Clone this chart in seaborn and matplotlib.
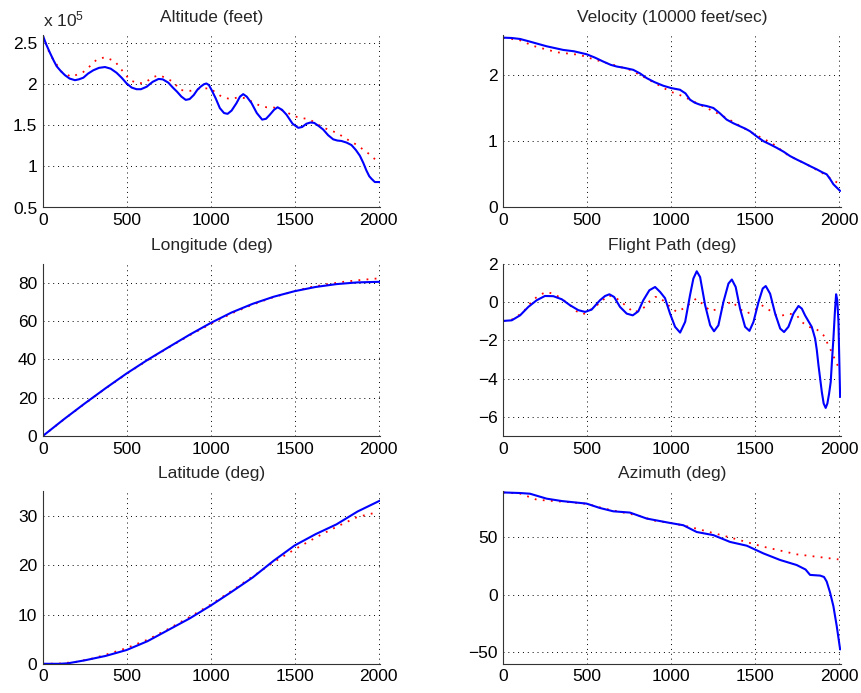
import numpy as np
import matplotlib
matplotlib.use("Agg")
import matplotlib.pyplot as plt
import seaborn as sns
from matplotlib.ticker import FuncFormatter

# --- data (x = time, blue = solid, red = dotted) ---
alt_blue_t = [0, 20, 44, 65, 83, 108, 133, 160, 192, 215, 242, 270, 301, 335, 371, 405,
              440, 470, 500, 530, 559, 585, 619, 655, 690, 715, 748, 775, 800, 826, 852,
              875, 900, 920, 940, 960, 975, 990, 1006, 1030, 1055, 1080, 1101, 1125, 1154,
              1175, 1194, 1215, 1244, 1275, 1307, 1330, 1353, 1378, 1399, 1425, 1452, 1488,
              1522, 1545, 1571, 1595, 1617, 1645, 1670, 1700, 1730, 1755, 1779, 1810, 1839,
              1865, 1889, 1910, 1928, 1945, 1958, 1978, 2008]
alt_blue = [2.60, 2.49, 2.38, 2.29, 2.22, 2.16, 2.11, 2.07, 2.05, 2.06, 2.08, 2.13, 2.17,
            2.20, 2.21, 2.19, 2.14, 2.08, 2.01, 1.96, 1.94, 1.94, 1.97, 2.03, 2.065, 2.06,
            2.02, 1.96, 1.91, 1.85, 1.81, 1.82, 1.87, 1.93, 1.97, 2.00, 2.01, 1.99, 1.93,
            1.83, 1.71, 1.65, 1.64, 1.68, 1.77, 1.85, 1.88, 1.85, 1.77, 1.65, 1.57, 1.58,
            1.63, 1.69, 1.72, 1.69, 1.63, 1.52, 1.47, 1.48, 1.52, 1.535, 1.53, 1.49, 1.45,
            1.38, 1.33, 1.315, 1.31, 1.29, 1.26, 1.20, 1.13, 1.04, 0.95, 0.88, 0.85, 0.81,
            0.81]
alt_red_t = [0, 44, 113, 172, 242, 292, 321, 371, 430, 480, 520, 569, 609, 659, 698, 738,
             778, 818, 878, 940, 996, 1065, 1115, 1164, 1214, 1244, 1283, 1333, 1373, 1418,
             1462, 1498, 1545, 1591, 1664, 1710, 1752, 1789, 1829, 1873, 1918, 1952, 1988,
             2005]
alt_red = [2.60, 2.36, 2.15, 2.09, 2.15, 2.24, 2.30, 2.33, 2.28, 2.15, 2.05, 2.01, 2.02,
           2.09, 2.11, 2.07, 2.03, 1.93, 1.92, 1.95, 1.95, 1.85, 1.82, 1.84, 1.83, 1.79,
           1.75, 1.72, 1.72, 1.69, 1.65, 1.61, 1.59, 1.57, 1.48, 1.44, 1.41, 1.36, 1.31,
           1.26, 1.19, 1.14, 1.07, 1.04]

vel_blue_t = [0, 50, 100, 159, 258, 357, 420, 496, 545, 595, 640, 675, 720, 774, 815, 854,
              900, 953, 1000, 1052, 1085, 1112, 1140, 1171, 1210, 1251, 1290, 1330, 1370,
              1409, 1440, 1469, 1510, 1549, 1590, 1628, 1670, 1708, 1750, 1787, 1830, 1867,
              1900, 1926, 1946, 1966, 1986, 2006]
vel_blue = [2.56, 2.555, 2.54, 2.50, 2.43, 2.375, 2.355, 2.31, 2.26, 2.20, 2.15, 2.125,
            2.105, 2.075, 2.02, 1.95, 1.89, 1.835, 1.80, 1.775, 1.72, 1.625, 1.58, 1.55,
            1.53, 1.50, 1.42, 1.325, 1.27, 1.225, 1.19, 1.15, 1.07, 1.00, 0.95, 0.90, 0.84,
            0.775, 0.72, 0.675, 0.62, 0.575, 0.53, 0.50, 0.43, 0.35, 0.30, 0.25]
vel_red_t = [0, 100, 179, 318, 456, 536, 655, 754, 850, 992, 1072, 1171, 1251, 1330, 1409,
             1500, 1600, 1700, 1800, 1900, 1960, 2005]
vel_red = [2.56, 2.52, 2.435, 2.34, 2.30, 2.235, 2.15, 2.075, 1.95, 1.75, 1.675, 1.55,
           1.45, 1.35, 1.23, 1.10, 0.97, 0.78, 0.66, 0.52, 0.42, 0.35]

lon_blue_t = [0, 125, 250, 375, 500, 625, 750, 875, 1000, 1125, 1250, 1375, 1500, 1625,
              1750, 1875, 2008]
lon_blue = [0, 8.7, 17.0, 25.0, 32.7, 39.8, 46.4, 52.9, 59.0, 64.5, 69.0, 72.7, 75.6,
            77.8, 79.3, 80.2, 80.5]
lon_red_t = [0, 125, 250, 375, 500, 625, 750, 875, 1000, 1125, 1250, 1375, 1500, 1600,
             1700, 1800, 1900, 2000]
lon_red = [0, 8.6, 16.9, 24.9, 32.5, 39.6, 46.2, 52.6, 58.5, 64.0, 68.6, 72.5, 75.6, 77.8,
           79.3, 80.6, 81.5, 82.3]

lat_blue_t = [0, 100, 150, 250, 375, 500, 625, 750, 875, 1000, 1125, 1250, 1375, 1500,
              1625, 1750, 1875, 2008]
lat_blue = [0, 0, 0.1, 0.7, 1.6, 2.8, 4.6, 6.9, 9.2, 11.8, 14.6, 17.5, 20.9, 24.0, 26.3,
            28.3, 30.9, 33.1]
lat_red_t = [0, 100, 200, 300, 400, 500, 625, 750, 875, 1000, 1125, 1250, 1375, 1500,
             1625, 1750, 1875, 2000]
lat_red = [0, 0.05, 0.4, 1.1, 2.1, 3.2, 4.9, 7.1, 9.5, 12.0, 14.8, 17.7, 20.6, 23.2, 25.6,
           27.8, 29.8, 30.8]

fp_blue_t = [0, 50, 100, 149, 199, 248, 298, 348, 397, 447, 487, 526, 576, 606, 632, 660,
             695, 735, 771, 804, 834, 870, 904, 934, 963, 993, 1023, 1053, 1083, 1112, 1132,
             1152, 1172, 1202, 1232, 1255, 1281, 1311, 1341, 1361, 1384, 1410, 1440, 1466,
             1490, 1520, 1545, 1563, 1589, 1619, 1649, 1672, 1698, 1728, 1758, 1778, 1797,
             1817, 1837, 1847, 1857, 1867, 1877, 1887, 1897, 1908, 1920, 1930, 1940, 1950,
             1958, 1966, 1975, 1982, 1989, 1996, 2006]
fp_blue = [-0.99, -0.96, -0.70, -0.26, 0.09, 0.31, 0.30, 0.14, -0.17, -0.43, -0.52, -0.40,
           0.09, 0.31, 0.40, 0.26, -0.26, -0.61, -0.70, -0.49, 0.09, 0.61, 0.78, 0.52, 0.20,
           -0.61, -1.30, -1.60, -1.04, 0.35, 1.22, 1.60, 1.30, -0.17, -1.22, -1.53, -1.22,
           0.0, 0.96, 1.17, 0.78, -0.35, -1.30, -1.51, -1.04, 0.0, 0.70, 0.83, 0.43, -0.61,
           -1.39, -1.57, -1.30, -0.61, -0.21, -0.35, -0.70, -1.0, -1.30, -1.6, -1.91, -2.5,
           -3.3, -4.0, -4.7, -5.3, -5.53, -5.3, -4.8, -4.17, -3.0, -1.91, -0.5, 0.40, 0.1,
           -1.04, -4.96]
fp_red_t = [0, 60, 119, 179, 219, 258, 308, 387, 437, 477, 546, 626, 671, 715, 745, 779,
            844, 870, 904, 924, 963, 993, 1033, 1082, 1148, 1202, 1231, 1291, 1360, 1410,
            1450, 1490, 1539, 1585, 1638, 1698, 1748, 1777, 1817, 1861, 1907, 1946, 1986,
            2006]
fp_red = [-1.0, -0.9, -0.52, 0.12, 0.38, 0.52, 0.40, -0.09, -0.49, -0.64, -0.26, 0.35,
          0.21, -0.09, -0.31, -0.56, -0.26, 0.03, 0.26, 0.26, 0.0, -0.26, -0.52, -0.30,
          0.17, -0.21, -0.47, -0.35, 0.03, -0.38, -0.60, -0.47, -0.17, -0.43, -0.78, -0.60,
          -0.70, -1.04, -1.30, -1.39, -1.74, -2.43, -3.22, -3.57]

az_blue_t = [0, 100, 159, 258, 350, 496, 575, 655, 754, 854, 992, 1072, 1152, 1251, 1350,
             1450, 1549, 1648, 1747, 1800, 1827, 1887, 1910, 1926, 1946, 1966, 1986, 2006]
az_blue = [89, 88.5, 87.9, 83.6, 81.5, 79.3, 75.5, 72.6, 71.5, 66.3, 62.5, 60.5, 54.6,
           51.9, 46, 42.7, 36, 30.3, 25.9, 22, 17.3, 16.7, 15.5, 11.5, 2, -10, -27.4, -47.5]
az_red_t = [0, 100, 199, 300, 400, 500, 600, 700, 800, 900, 1000, 1112, 1350, 1549, 1747,
            1900, 1996]
az_red = [89, 88, 82.7, 81.5, 80.5, 79, 75, 72, 69, 64.5, 62.5, 59, 49.9, 41.8, 35.2, 32.5,
          30.8]

x_ticks = [0, 500, 1000, 1500, 2000]

panels = [
    ("Altitude (feet)", alt_blue_t, alt_blue, alt_red_t, alt_red, (0.5, 2.6), [0.5, 1, 1.5, 2, 2.5]),
    ("Velocity (10000 feet/sec)", vel_blue_t, vel_blue, vel_red_t, vel_red, (0, 2.6), [0, 1, 2]),
    ("Longitude (deg)", lon_blue_t, lon_blue, lon_red_t, lon_red, (0, 90), [0, 20, 40, 60, 80]),
    ("Flight Path (deg)", fp_blue_t, fp_blue, fp_red_t, fp_red, (-7, 2), [-6, -4, -2, 0, 2]),
    ("Latitude (deg)", lat_blue_t, lat_blue, lat_red_t, lat_red, (0, 35), [0, 10, 20, 30]),
    ("Azimuth (deg)", az_blue_t, az_blue, az_red_t, az_red, (-60, 90), [-50, 0, 50]),
]

sns.set_theme(style="white")
plt.rcParams["font.family"] = ["Liberation Sans", "DejaVu Sans"]
plt.rcParams["mathtext.default"] = "regular"

FS = 12.5
fig = plt.figure(figsize=(8.62, 6.93), dpi=100)
W, H = 862, 693
lefts = [42.7, 503.3]
tops = [35, 263.6, 491.3]
ax_w = 337.5
ax_h = 172.5

for i, (title, bt, by, rt, ry, ylim, yticks) in enumerate(panels):
    row, col = divmod(i, 2)
    ax = fig.add_axes([lefts[col] / W, 1 - (tops[row] + ax_h) / H, ax_w / W, ax_h / H])
    sns.lineplot(x=rt, y=ry, ax=ax, color="red", linewidth=1.3,
                 linestyle=(0, (1, 3.5)), sort=False)
    sns.lineplot(x=bt, y=by, ax=ax, color="blue", linewidth=1.5, sort=False)
    ax.set_xlim(0, 2010)
    ax.set_ylim(*ylim)
    ax.set_xticks(x_ticks)
    ax.set_yticks(yticks)
    ax.yaxis.set_major_formatter(FuncFormatter(lambda v, p: f"{v:g}".replace("-", "\u2212")))
    ax.set_xlabel("")
    ax.set_ylabel("")
    ax.set_title(title, fontsize=FS, pad=9.5)
    ax.grid(True, linestyle=(0, (1, 4)), color="black", linewidth=0.7)
    sns.despine(ax=ax)
    for side in ["left", "bottom"]:
        ax.spines[side].set_color("#333333")
        ax.spines[side].set_linewidth(0.8)
    ax.tick_params(direction="in", length=3, width=0.6, colors="black",
                   labelsize=FS, pad=4)
    ax.tick_params(axis="x", pad=4)
    if i == 0:
        ax.text(0.0, 1.03, "x 10$^{5}$", transform=ax.transAxes, fontsize=FS,
                ha="left", va="bottom")

fig.savefig("out.png", dpi=100)
